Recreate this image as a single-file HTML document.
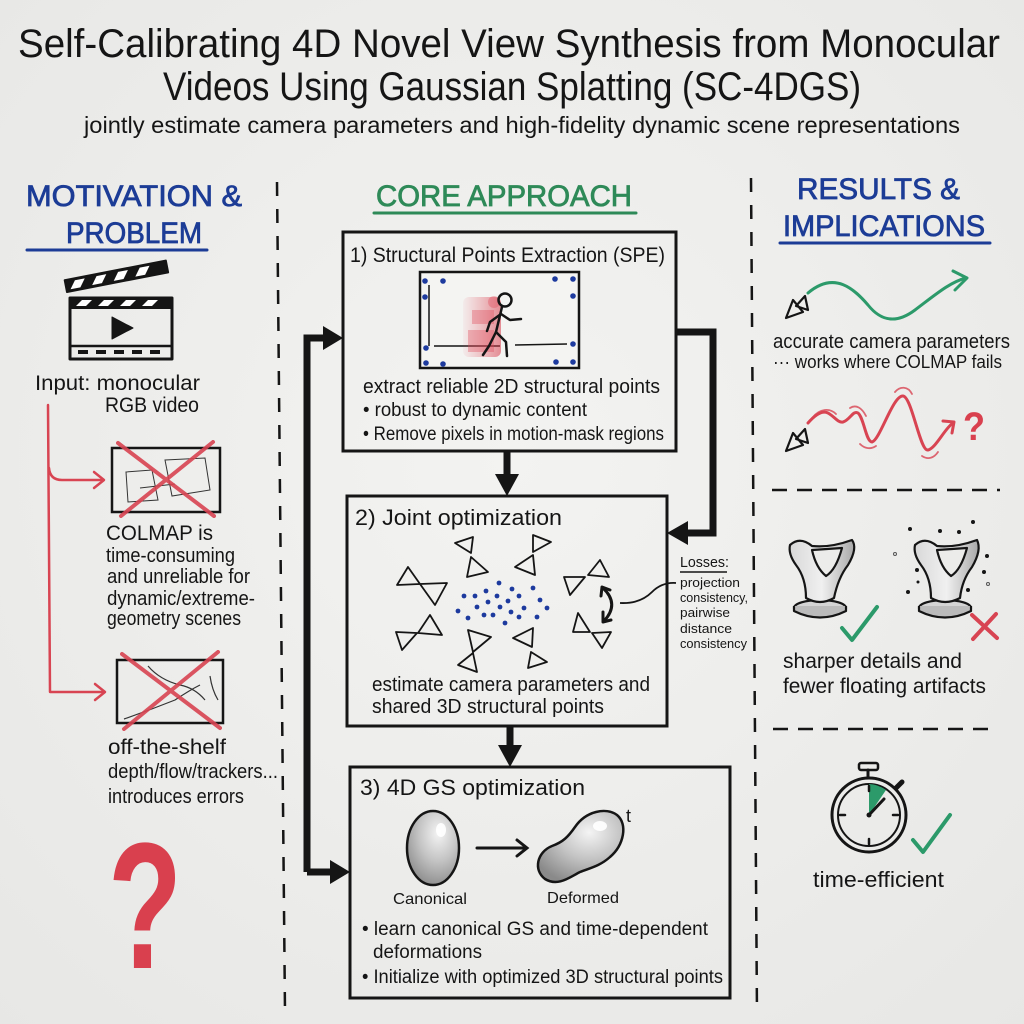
<!DOCTYPE html>
<html>
<head>
<meta charset="utf-8">
<style>
html,body{margin:0;padding:0;background:#eeeeec;}
svg{display:block;}
text{font-family:"Liberation Sans",sans-serif;fill:#151515;}
.h{stroke-width:0.8;}
</style>
</head>
<body>
<svg width="1024" height="1024" viewBox="0 0 1024 1024" xmlns="http://www.w3.org/2000/svg">
<defs>
  <radialGradient id="bg" cx="50%" cy="45%" r="75%">
    <stop offset="0" stop-color="#f3f3f1"/>
    <stop offset="1" stop-color="#e7e7e5"/>
  </radialGradient>
  <radialGradient id="egg" cx="60%" cy="30%" r="75%">
    <stop offset="0" stop-color="#f4f4f4"/>
    <stop offset="0.5" stop-color="#c4c4c4"/>
    <stop offset="1" stop-color="#8a8a8a"/>
  </radialGradient>
  <linearGradient id="blur" x1="0" x2="1">
    <stop offset="0" stop-color="#e05060" stop-opacity="0.05"/>
    <stop offset="1" stop-color="#d83848" stop-opacity="0.55"/>
  </linearGradient>
  <linearGradient id="cup" x1="0" x2="1">
    <stop offset="0" stop-color="#d8d8d8"/>
    <stop offset="0.5" stop-color="#f0f0f0"/>
    <stop offset="1" stop-color="#a8a8a8"/>
  </linearGradient>
</defs>
<rect width="1024" height="1024" fill="url(#bg)"/>

<!-- Title -->
<text x="18" y="57" font-size="40" textLength="982" lengthAdjust="spacingAndGlyphs">Self-Calibrating 4D Novel View Synthesis from Monocular</text>
<text x="163" y="100" font-size="40" textLength="698" lengthAdjust="spacingAndGlyphs">Videos Using Gaussian Splatting (SC-4DGS)</text>
<text x="84" y="133" font-size="23" textLength="876" lengthAdjust="spacingAndGlyphs">jointly estimate camera parameters and high-fidelity dynamic scene representations</text>

<!-- Dividers -->
<line x1="277" y1="182" x2="285" y2="1012" stroke="#151515" stroke-width="2.5" stroke-dasharray="14 13"/>
<line x1="751" y1="178" x2="757" y2="1015" stroke="#151515" stroke-width="2.5" stroke-dasharray="14 13"/>

<!-- Headings -->
<text class="h" x="26" y="206" font-size="30" style="fill:#1c3c96;stroke:#1c3c96" textLength="216" lengthAdjust="spacingAndGlyphs">MOTIVATION &amp;</text>
<text class="h" x="66" y="243" font-size="30" style="fill:#1c3c96;stroke:#1c3c96" textLength="136" lengthAdjust="spacingAndGlyphs">PROBLEM</text>
<line x1="27" y1="250" x2="207" y2="250" stroke="#1c3c96" stroke-width="3" stroke-linecap="round"/>

<text class="h" x="376" y="206" font-size="30" style="fill:#2e8a58;stroke:#2e8a58" textLength="256" lengthAdjust="spacingAndGlyphs">CORE APPROACH</text>
<line x1="374" y1="213" x2="636" y2="213" stroke="#2e8a58" stroke-width="3" stroke-linecap="round"/>

<text class="h" x="797" y="199" font-size="30" style="fill:#1c3c96;stroke:#1c3c96" textLength="163" lengthAdjust="spacingAndGlyphs">RESULTS &amp;</text>
<text class="h" x="783" y="236" font-size="30" style="fill:#1c3c96;stroke:#1c3c96" textLength="202" lengthAdjust="spacingAndGlyphs">IMPLICATIONS</text>
<line x1="780" y1="243" x2="990" y2="243" stroke="#1c3c96" stroke-width="3" stroke-linecap="round"/>

<!-- Clapperboard -->
<g stroke="#151515" stroke-linejoin="round">
  <g transform="translate(67,292) rotate(-11)">
    <rect x="0" y="-12" width="103" height="12" fill="#151515" stroke-width="2"/>
    <g fill="#fff" stroke="none">
      <polygon points="10,-10 20,-10 14,-2 4,-2"/>
      <polygon points="32,-10 42,-10 36,-2 26,-2"/>
      <polygon points="54,-10 64,-10 58,-2 48,-2"/>
      <polygon points="76,-10 86,-10 80,-2 70,-2"/>
    </g>
  </g>
  <rect x="70" y="298" width="102" height="61" fill="none" stroke-width="3"/>
  <rect x="70" y="298" width="102" height="10" fill="#151515" stroke-width="2"/>
  <g fill="#fff" stroke="none">
    <polygon points="82,300 92,300 86,306 76,306"/>
    <polygon points="104,300 114,300 108,306 98,306"/>
    <polygon points="126,300 136,300 130,306 120,306"/>
    <polygon points="148,300 158,300 152,306 142,306"/>
  </g>
  <line x1="70" y1="346" x2="172" y2="346" stroke-width="2.5"/>
  <polygon points="112,317 112,339 133,328" fill="#151515"/>
  <g fill="#151515" stroke="none">
    <rect x="78" y="350" width="10" height="4"/>
    <rect x="96" y="350" width="10" height="4"/>
    <rect x="114" y="350" width="10" height="4"/>
    <rect x="132" y="350" width="10" height="4"/>
    <rect x="150" y="350" width="10" height="4"/>
  </g>
</g>

<text x="35" y="390" font-size="21" textLength="165" lengthAdjust="spacingAndGlyphs">Input: monocular</text>
<text x="105" y="412" font-size="21" textLength="94" lengthAdjust="spacingAndGlyphs">RGB video</text>

<!-- red branch -->
<g stroke="#d84452" stroke-width="2.5" fill="none" stroke-linecap="round" stroke-linejoin="round">
  <path d="M48,405 L50,692 L104,692"/>
  <path d="M49,468 Q50,480 62,480 L103,480"/>
  <path d="M94,472 L104,480 L94,488"/>
  <path d="M95,684 L105,692 L95,700"/>
</g>

<!-- COLMAP image -->
<rect x="112" y="448" width="108" height="64" fill="none" stroke="#151515" stroke-width="2.5"/>
<g stroke="#333" stroke-width="1" fill="none">
  <path d="M126,472 L152,470 L158,500 L128,502 Z"/>
  <path d="M165,460 L205,458 L210,490 L172,496 Z"/>
  <path d="M140,488 L175,484"/>
</g>
<g stroke="#d84452" stroke-width="4" stroke-linecap="round" opacity="0.9">
  <line x1="118" y1="443" x2="214" y2="516"/>
  <line x1="213" y1="442" x2="121" y2="516"/>
</g>
<text x="106" y="540" font-size="21" textLength="107" lengthAdjust="spacingAndGlyphs">COLMAP is</text>
<text x="106" y="562" font-size="20" textLength="129" lengthAdjust="spacingAndGlyphs">time-consuming</text>
<text x="107" y="583" font-size="20" textLength="143" lengthAdjust="spacingAndGlyphs">and unreliable for</text>
<text x="107" y="605" font-size="20" textLength="148" lengthAdjust="spacingAndGlyphs">dynamic/extreme-</text>
<text x="107" y="625" font-size="20" textLength="134" lengthAdjust="spacingAndGlyphs">geometry scenes</text>

<!-- off-the-shelf image -->
<rect x="117" y="660" width="106" height="63" fill="none" stroke="#151515" stroke-width="2.5"/>
<g stroke="#333" stroke-width="1.2" fill="none">
  <path d="M148,666 Q160,680 180,685 Q195,688 205,700 M124,719 Q150,710 175,700 Q190,690 200,685 M210,676 Q212,690 218,700"/>
</g>
<g stroke="#d84452" stroke-width="4" stroke-linecap="round" opacity="0.9">
  <line x1="122" y1="654" x2="220" y2="728"/>
  <line x1="218" y1="652" x2="124" y2="729"/>
</g>
<text x="108" y="754" font-size="21" textLength="118" lengthAdjust="spacingAndGlyphs">off-the-shelf</text>
<text x="108" y="778" font-size="20" textLength="170" lengthAdjust="spacingAndGlyphs">depth/flow/trackers...</text>
<text x="108" y="803" font-size="20" textLength="136" lengthAdjust="spacingAndGlyphs">introduces errors</text>

<!-- big red ? -->
<text x="108" y="968" font-size="180" font-weight="bold" style="fill:#d9404e" textLength="74" lengthAdjust="spacingAndGlyphs">?</text>

<!-- Center loop arrows -->
<g stroke="#151515" stroke-width="7" fill="none" stroke-linejoin="miter">
  <path d="M307,872 L307,338 L326,338"/>
  <path d="M307,872 L332,872"/>
  <path d="M675,332 L713,332 L713,533 L688,533"/>
  <path d="M507,450 L507,476"/>
  <path d="M510,727 L510,747"/>
</g>
<g fill="#151515">
  <polygon points="323,326 343,338 323,350"/>
  <polygon points="330,860 350,872 330,884"/>
  <polygon points="688,521 667,533 688,545"/>
  <polygon points="495,474 519,474 507,496"/>
  <polygon points="498,745 522,745 510,767"/>
</g>

<!-- Box 1 -->
<rect x="343" y="232" width="333" height="219" fill="none" stroke="#151515" stroke-width="3"/>
<text x="350" y="262" font-size="21" textLength="315" lengthAdjust="spacingAndGlyphs">1) Structural Points Extraction (SPE)</text>
<rect x="420" y="272" width="159" height="96" fill="#f4f4f2" stroke="#151515" stroke-width="2.5"/>
<g stroke="#151515" stroke-width="1.5">
  <line x1="429" y1="285" x2="429" y2="346"/>
  <line x1="434" y1="346" x2="500" y2="346"/>
  <line x1="515" y1="345" x2="567" y2="344"/>
</g>
<g fill="url(#blur)">
  <rect x="463" y="297" width="38" height="60" rx="6"/>
</g>
<g fill="#e04858" opacity="0.35">
  <circle cx="494" cy="302" r="6"/>
  <rect x="472" y="310" width="22" height="14"/>
  <rect x="468" y="330" width="26" height="22"/>
</g>
<g stroke="#151515" stroke-width="2.5" fill="none" stroke-linecap="round" stroke-linejoin="round">
  <circle cx="505" cy="300" r="6.5"/>
  <path d="M502,307 L496,332"/>
  <path d="M501,314 L490,322 L487,331"/>
  <path d="M501,314 L510,320 L521,319"/>
  <path d="M496,332 L506,342 L507,356"/>
  <path d="M496,332 L489,346 L483,355"/>
</g>
<g fill="#1d3a9e">
  <circle cx="425" cy="281" r="2.8"/><circle cx="443" cy="281" r="2.8"/>
  <circle cx="555" cy="279" r="2.8"/><circle cx="573" cy="279" r="2.8"/>
  <circle cx="573" cy="296" r="2.8"/><circle cx="425" cy="297" r="2.8"/>
  <circle cx="426" cy="348" r="2.8"/><circle cx="573" cy="344" r="2.8"/>
  <circle cx="426" cy="363" r="2.8"/><circle cx="443" cy="364" r="2.8"/>
  <circle cx="556" cy="362" r="2.8"/><circle cx="573" cy="362" r="2.8"/>
</g>
<text x="363" y="393" font-size="20" textLength="297" lengthAdjust="spacingAndGlyphs">extract reliable 2D structural points</text>
<text x="363" y="416" font-size="19" textLength="224" lengthAdjust="spacingAndGlyphs">• robust to dynamic content</text>
<text x="363" y="440" font-size="19" textLength="301" lengthAdjust="spacingAndGlyphs">• Remove pixels in motion-mask regions</text>

<!-- Box 2 -->
<rect x="347" y="496" width="320" height="230" fill="none" stroke="#151515" stroke-width="3"/>
<text x="355" y="525" font-size="22" textLength="207" lengthAdjust="spacingAndGlyphs">2) Joint optimization</text>
<g fill="none" stroke="#151515" stroke-width="1.8" stroke-linejoin="round">
  <polygon points="397,585 408,567 420,584"/><polygon points="420,584 447,583 435,605"/>
  <polygon points="455,543 473,537 471,553"/><polygon points="471,557 467,577 488,572"/>
  <polygon points="533,535 551,542 533,552"/><polygon points="533,555 515,567 535,575"/>
  <polygon points="564,577 585,577 570,595"/><polygon points="588,575 600,560 609,577"/>
  <polygon points="396,632 417,633 402,650"/><polygon points="418,633 430,615 442,635"/>
  <polygon points="468,630 491,637 473,652"/><polygon points="473,653 458,665 477,672"/>
  <polygon points="513,638 533,628 532,647"/><polygon points="531,652 528,668 547,662"/>
  <polygon points="573,632 578,613 590,632"/><polygon points="592,633 611,632 602,648"/>
</g>
<g fill="#1d3a9e">
  <circle cx="499" cy="583" r="2.4"/><circle cx="464" cy="596" r="2.4"/><circle cx="475" cy="596" r="2.4"/>
  <circle cx="486" cy="591" r="2.4"/><circle cx="497" cy="596" r="2.4"/><circle cx="512" cy="589" r="2.4"/>
  <circle cx="533" cy="588" r="2.4"/><circle cx="488" cy="602" r="2.4"/><circle cx="508" cy="601" r="2.4"/>
  <circle cx="519" cy="596" r="2.4"/><circle cx="540" cy="600" r="2.4"/><circle cx="458" cy="611" r="2.4"/>
  <circle cx="477" cy="607" r="2.4"/><circle cx="500" cy="607" r="2.4"/><circle cx="524" cy="608" r="2.4"/>
  <circle cx="547" cy="608" r="2.4"/><circle cx="468" cy="618" r="2.4"/><circle cx="484" cy="615" r="2.4"/>
  <circle cx="493" cy="615" r="2.4"/><circle cx="511" cy="612" r="2.4"/><circle cx="519" cy="617" r="2.4"/>
  <circle cx="537" cy="617" r="2.4"/><circle cx="505" cy="623" r="2.4"/>
</g>
<g stroke="#151515" stroke-width="3" fill="none" stroke-linecap="round" stroke-linejoin="round">
  <path d="M603,588 Q620,604 604,621"/>
  <path d="M601,596 L602,587 L610,590"/>
  <path d="M603,612 L603,622 L611,620"/>
</g>
<path d="M620,603 Q640,604 652,592 Q662,582 676,583" stroke="#151515" stroke-width="1.8" fill="none"/>
<text x="372" y="691" font-size="20" textLength="278" lengthAdjust="spacingAndGlyphs">estimate camera parameters and</text>
<text x="372" y="713" font-size="20" textLength="232" lengthAdjust="spacingAndGlyphs">shared 3D structural points</text>

<!-- Losses -->
<text x="680" y="567" font-size="15" textLength="49" lengthAdjust="spacingAndGlyphs">Losses:</text>
<line x1="680" y1="572" x2="727" y2="572" stroke="#151515" stroke-width="1.5"/>
<text x="680" y="587" font-size="13" textLength="60" lengthAdjust="spacingAndGlyphs">projection</text>
<text x="680" y="602" font-size="13" textLength="68" lengthAdjust="spacingAndGlyphs">consistency,</text>
<text x="680" y="617" font-size="13" textLength="50" lengthAdjust="spacingAndGlyphs">pairwise</text>
<text x="680" y="633" font-size="13" textLength="52" lengthAdjust="spacingAndGlyphs">distance</text>
<text x="680" y="648" font-size="13" textLength="67" lengthAdjust="spacingAndGlyphs">consistency</text>

<!-- Box 3 -->
<rect x="350" y="767" width="380" height="231" fill="none" stroke="#151515" stroke-width="3"/>
<text x="360" y="795" font-size="22" textLength="225" lengthAdjust="spacingAndGlyphs">3) 4D GS optimization</text>
<ellipse cx="433" cy="848" rx="26" ry="37" fill="url(#egg)" stroke="#151515" stroke-width="2.5"/>
<ellipse cx="441" cy="830" rx="5" ry="7" fill="#fff" opacity="0.9"/>
<g stroke="#151515" stroke-width="3" fill="none" stroke-linecap="round">
  <line x1="477" y1="848" x2="526" y2="848"/>
  <path d="M517,840 L527,848 L517,856"/>
</g>
<path d="M545,879 C533,870 537,852 552,846 C563,842 568,837 575,827 C586,811 606,807 617,815 C628,824 624,845 610,857 C600,866 590,868 580,872 C570,877 558,887 545,879 Z" fill="url(#egg)" stroke="#151515" stroke-width="2.5"/>
<ellipse cx="600" cy="826" rx="7" ry="5" fill="#fff" opacity="0.9"/>
<text x="626" y="822" font-size="18">t</text>
<text x="393" y="904" font-size="16" textLength="74" lengthAdjust="spacingAndGlyphs">Canonical</text>
<text x="547" y="903" font-size="16" textLength="72" lengthAdjust="spacingAndGlyphs">Deformed</text>
<text x="362" y="935" font-size="19" textLength="346" lengthAdjust="spacingAndGlyphs">• learn canonical GS and time-dependent</text>
<text x="373" y="958" font-size="19" textLength="109" lengthAdjust="spacingAndGlyphs">deformations</text>
<text x="362" y="983" font-size="19" textLength="361" lengthAdjust="spacingAndGlyphs">• Initialize with optimized 3D structural points</text>

<!-- Right column -->
<g fill="none" stroke="#151515" stroke-width="2.2" stroke-linejoin="round">
  <polygon points="786,318 793,300 803,312"/>
  <polygon points="796,306 805,296 808,310"/>
  <polygon points="786,451 793,433 803,445"/>
  <polygon points="796,439 805,429 808,443"/>
</g>
<g stroke="#2c9a6a" stroke-width="3" fill="none" stroke-linecap="round" stroke-linejoin="round">
  <path d="M808,293 C835,270 855,290 868,305 C880,320 895,325 915,310 C935,295 950,282 966,278"/>
  <path d="M953,271 L967,278 L955,290"/>
</g>
<text x="773" y="348" font-size="20" textLength="237" lengthAdjust="spacingAndGlyphs">accurate camera parameters</text>
<text x="773" y="368" font-size="18" textLength="229" lengthAdjust="spacingAndGlyphs">··· works where COLMAP fails</text>

<g stroke="#d84452" fill="none" stroke-linecap="round" stroke-linejoin="round">
  <path d="M808,423 C815,415 822,410 828,413 C835,417 838,423 843,422 C850,420 853,410 858,413 C864,418 866,442 872,442 C880,440 893,395 903,396 C912,397 920,452 928,450 C936,448 945,428 953,423" stroke-width="3"/>
  <path d="M812,418 C820,408 830,408 836,414 M850,408 C856,404 862,408 866,416 M895,392 C900,386 908,386 912,394 M876,446 C870,450 864,448 860,444 M922,456 C928,460 934,458 938,452" stroke-width="1.8" opacity="0.8"/>
  <path d="M943,421 L954,422 L952,433" stroke-width="3"/>
</g>
<text x="963" y="440" font-size="40" font-weight="bold" style="fill:#d9404e" textLength="22" lengthAdjust="spacingAndGlyphs">?</text>

<line x1="772" y1="490" x2="1000" y2="490" stroke="#151515" stroke-width="2.5" stroke-dasharray="15 10"/>

<!-- Cups -->
<g stroke="#151515" stroke-width="2.2" stroke-linejoin="round">
  <ellipse cx="820" cy="608" rx="26" ry="8" fill="#d4d4d4"/>
  <path d="M794,606 L794,611 Q820,624 846,611 L846,606" fill="#bbb"/>
  <path d="M790,545 Q800,536 812,546 Q830,548 852,540 Q858,548 848,565 Q838,578 834,598 Q820,606 806,598 Q806,578 796,565 Q788,554 790,545 Z" fill="url(#cup)"/>
  <path d="M812,550 L842,548 Q836,570 826,576 Q816,568 812,550 Z" fill="#ececea"/>
</g>
<g stroke="#151515" stroke-width="2.2" stroke-linejoin="round">
  <ellipse cx="945" cy="608" rx="26" ry="8" fill="#d4d4d4"/>
  <path d="M919,606 L919,611 Q945,624 971,611 L971,606" fill="#bbb"/>
  <path d="M915,545 Q925,536 937,546 Q955,548 977,540 Q982,550 972,567 Q962,580 960,598 Q945,606 931,598 Q931,578 921,565 Q913,554 915,545 Z" fill="url(#cup)"/>
  <path d="M937,550 L967,548 Q961,570 951,576 Q941,568 937,550 Z" fill="#ececea"/>
</g>
<g fill="#151515">
  <circle cx="910" cy="529" r="2"/><circle cx="940" cy="531" r="2"/><circle cx="959" cy="532" r="2"/>
  <circle cx="973" cy="522" r="2"/><circle cx="987" cy="556" r="2"/><circle cx="917" cy="570" r="2"/>
  <circle cx="984" cy="572" r="2"/><circle cx="908" cy="592" r="2"/><circle cx="968" cy="590" r="2"/>
  <circle cx="918" cy="582" r="1.5"/>
</g>
<g fill="none" stroke="#555" stroke-width="1">
  <circle cx="895" cy="554" r="1.5"/><circle cx="988" cy="584" r="1.5"/>
</g>
<path d="M842,628 L852,640 L877,607" stroke="#2c9a6a" stroke-width="4" fill="none" stroke-linecap="round" stroke-linejoin="round"/>
<g stroke="#d84452" stroke-width="4" stroke-linecap="round">
  <line x1="972" y1="615" x2="997" y2="638"/>
  <line x1="996" y1="614" x2="973" y2="639"/>
</g>
<text x="783" y="668" font-size="21" textLength="179" lengthAdjust="spacingAndGlyphs">sharper details and</text>
<text x="783" y="693" font-size="21" textLength="203" lengthAdjust="spacingAndGlyphs">fewer floating artifacts</text>

<line x1="773" y1="729" x2="998" y2="729" stroke="#151515" stroke-width="2.5" stroke-dasharray="15 10"/>

<!-- Stopwatch -->
<g stroke="#151515" fill="none" stroke-linecap="round">
  <rect x="859" y="763" width="19" height="7" rx="2" stroke-width="2.5"/>
  <line x1="868" y1="770" x2="868" y2="777" stroke-width="3"/>
  <line x1="896" y1="788" x2="902" y2="782" stroke-width="5"/>
  <circle cx="869" cy="815" r="37" stroke-width="3"/>
  <circle cx="869" cy="815" r="31" stroke-width="2"/>
</g>
<path d="M869,815 L869,784 A31,31 0 0 1 886,790 Z" fill="#2c9a6a"/>
<g stroke="#151515" stroke-width="2.5" stroke-linecap="round">
  <line x1="869" y1="815" x2="884" y2="799" stroke-width="3"/>
  <line x1="869" y1="786" x2="869" y2="791"/>
  <line x1="869" y1="839" x2="869" y2="844"/>
  <line x1="840" y1="815" x2="845" y2="815"/>
  <line x1="893" y1="815" x2="898" y2="815"/>
</g>
<circle cx="869" cy="815" r="2.5" fill="#151515"/>
<path d="M913,840 L923,852 L950,815" stroke="#2c9a6a" stroke-width="4" fill="none" stroke-linecap="round" stroke-linejoin="round"/>
<text x="813" y="887" font-size="22" textLength="131" lengthAdjust="spacingAndGlyphs">time-efficient</text>
</svg>
</body>
</html>
